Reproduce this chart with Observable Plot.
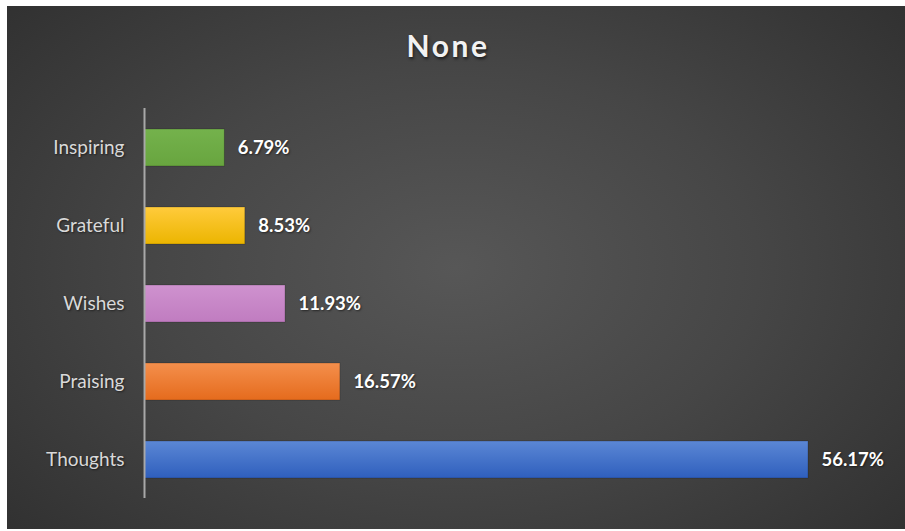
<!DOCTYPE html>
<html>
<head>
<meta charset="utf-8">
<script src="https://cdn.jsdelivr.net/npm/d3@7"></script>
<script src="https://cdn.jsdelivr.net/npm/@observablehq/plot@0.6"></script>
<style>
  html, body { margin: 0; padding: 0; background: #ffffff; }
  #wrap {
    position: absolute; left: 7px; top: 6px; width: 898px; height: 523px;
    background: radial-gradient(ellipse 75% 85% at 50% 50%, #575757 0%, #464646 45%, #2c2c2c 100%);
    overflow: hidden;
  }
  #title {
    position: absolute; left: 0; top: 21px; width: 882px; text-align: center;
    font-family: Lato, "Open Sans", sans-serif; font-weight: 700; font-size: 30px;
    letter-spacing: 2.5px; color: #f2f2f2; text-shadow: 1px 2px 3px rgba(0,0,0,0.6);
  }
  #chart { position: absolute; left: 0; top: 0; }
</style>
</head>
<body>
<div id="wrap">
  <div id="chart"></div>
  <div id="title">None</div>
</div>
<script>
const categories = ["Inspiring", "Grateful", "Wishes", "Praising", "Thoughts"];
const values = [6.79, 8.53, 11.93, 16.57, 56.17];
const valueLabels = ["6.79%", "8.53%", "11.93%", "16.57%", "56.17%"];
const gradientTops = ["#74b24c", "#ffcb3c", "#cf92cf", "#f48f4c", "#5b87d5"];
const gradientBottoms = ["#68a53f", "#ecb500", "#c07cc0", "#e56b1d", "#2f5fbd"];

const data = categories.map((c, i) => ({
  category: c, value: values[i], label: valueLabels[i], fill: `url(#bar-grad-${i})`
}));

const chart = Plot.plot({
  width: 898,
  height: 523,
  marginLeft: 137,
  marginTop: 102,
  marginBottom: 31,
  marginRight: 97,
  style: { background: "transparent", overflow: "visible" },
  x: { domain: [0, 56.17], axis: null },
  y: { domain: categories, paddingInner: 0.53, paddingOuter: 0.265, label: null },
  color: { type: "identity" },
  marks: [
    Plot.barX(data, {
      x: "value", y: "category", fill: "fill",
      stroke: "rgba(0,0,0,0.25)", strokeWidth: 0.8,
      style: "filter: drop-shadow(0px 3px 3px rgba(0,0,0,0.55));"
    }),
    Plot.ruleX([0], { stroke: "#a8a8a8", strokeWidth: 2 }),
    Plot.axisY({
      tickSize: 0, tickPadding: 20, label: null,
      fill: "#d9d9d9", fontSize: 19, fontFamily: "Lato, 'Open Sans', sans-serif"
    }),
    Plot.text(data, {
      x: "value", y: "category", text: "label", dx: 13, textAnchor: "start",
      fill: "#ffffff", fontWeight: "bold", fontSize: 18.5,
      fontFamily: "Lato, 'Open Sans', sans-serif"
    })
  ]
});

const svg = d3.select(chart);
const defs = svg.insert("defs", ":first-child");
categories.forEach((c, i) => {
  const g = defs.append("linearGradient")
    .attr("id", `bar-grad-${i}`).attr("x1", 0).attr("y1", 0).attr("x2", 0).attr("y2", 1);
  g.append("stop").attr("offset", "0%").attr("stop-color", gradientTops[i]);
  g.append("stop").attr("offset", "100%").attr("stop-color", gradientBottoms[i]);
});
svg.selectAll("text").style("text-shadow", "1px 1px 2px rgba(0,0,0,0.5)");

document.getElementById("chart").appendChild(chart);
</script>
</body>
</html>
